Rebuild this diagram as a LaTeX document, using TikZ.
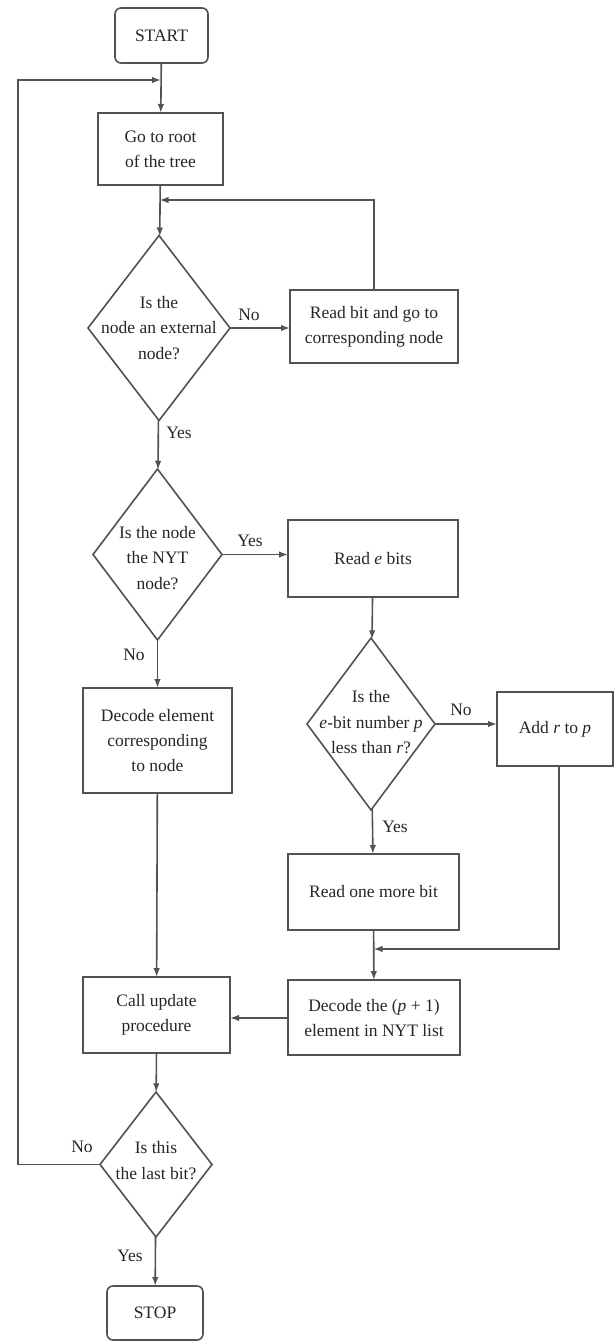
\documentclass[tikz,border=0pt]{standalone}
\usepackage{fontspec}
\setmainfont{Liberation Serif}
\usetikzlibrary{shapes.geometric,arrows.meta}

\tikzset{
  ln/.style={draw=black!68, line width=1.6pt},
  arr/.style={ln, -{Latex[length=9pt,width=6.5pt]}},
  box/.style={ln, rectangle, inner sep=0pt, outer sep=0pt, align=center,
    text=black!85, font=\fontsize{17.5}{25}\selectfont},
  term/.style={box, rounded corners=6pt},
  dia/.style={ln, diamond, inner sep=0pt, outer sep=0pt},
  diatext/.style={align=center, inner sep=0pt, text=black!85,
    font=\fontsize{17.5}{25.5}\selectfont},
  lab/.style={inner sep=0pt, text=black!85, font=\fontsize{17.5}{20}\selectfont}
}

\begin{document}
\begin{tikzpicture}[x=1pt,y=-1pt]
\useasboundingbox (0,0) rectangle (614,1342);

% terminals and process boxes
\node[term, minimum width=93pt, minimum height=55pt] (start) at (161.5,35.5) {START};
\node[box, minimum width=125pt, minimum height=72pt] (root) at (160.5,149) {Go to root\\of the tree};
\node[box, minimum width=168pt, minimum height=73pt] (readbit) at (374,326.5) {Read bit and go to\\corresponding node};
\node[box, minimum width=170pt, minimum height=77pt] (reade) at (373,558.5) {Read \textit{e} bits};
\node[box, minimum width=149pt, minimum height=105pt] (decel) at (157.5,740.5) {Decode element\\corresponding\\to node};
\node[box, minimum width=116pt, minimum height=74pt] (addr) at (555,729) {Add \textit{r} to \textit{p}};
\node[box, minimum width=171pt, minimum height=76pt] (onemore) at (373.5,892) {Read one more bit};
\node[box, minimum width=147pt, minimum height=76pt] (update) at (156.5,1015) {Call update\\procedure};
\node[box, minimum width=172pt, minimum height=75pt] (decp) at (374,1017.5) {Decode the (\textit{p} + 1)\\element in NYT list};
\node[term, minimum width=96pt, minimum height=54pt] (stop) at (155,1313) {STOP};

% decisions
\node[dia, minimum width=142pt, minimum height=185pt] (d1) at (159,328) {};
\node[diatext] (t1) at (d1) {Is the\\node an external\\node?};
\node[dia, minimum width=129pt, minimum height=171pt] (d2) at (157.5,554.5) {};
\node[diatext] (t2) at ([yshift=-3.5pt]d2.center) {Is the node\\the NYT\\node?};
\node[dia, minimum width=128pt, minimum height=172pt] (d3) at (371,724) {};
\node[diatext] (t3) at ([yshift=1.5pt]d3.center) {Is the\\\textit{e}-bit number \textit{p}\\less than \textit{r}?};
\node[dia, minimum width=112pt, minimum height=145pt] (d4) at (156,1164.5) {};
\node[diatext] (t4) at ([yshift=4pt]d4.center) {Is this\\the last bit?};

% junction points
\coordinate (jtop) at (161,80);
\coordinate (lt) at (18,80);
\coordinate (j1) at (159.5,200);
\coordinate (j2) at (373.5,949);

% connectors
\draw[arr] (start) -- (root);
\draw[arr] (root) -- (d1);
\draw[arr] (d1.east) -- (d1.east -| readbit.west);
\draw[arr] (readbit.north) |- (j1);
\draw[arr] (d1) -- (d2);
\draw[arr] (d2.east) -- (d2.east -| reade.west);
\draw[arr] (d2) -- (decel);
\draw[arr] (decel) -- (update);
\draw[arr] (reade) -- (d3);
\draw[arr] (d3.east) -- (d3.east -| addr.west);
\draw[arr] (d3) -- (onemore);
\draw[arr] (onemore) -- (decp);
\draw[arr] ([xshift=4pt]addr.south) |- (j2);
\draw[arr] (decp.west |- 0,1018) -- (update.east |- 0,1018);
\draw[arr] (update) -- (d4);
\draw[arr] (d4) -- (stop);
\draw[arr] (d4.west) -| (lt) -- (jtop);

% branch labels
\node[lab] (n1) at (249,315) {No};
\node[lab] (y1) at (179,433) {Yes};
\node[lab] (y2) at (250,541) {Yes};
\node[lab] (n2) at (134,655) {No};
\node[lab] (n3) at (461,710) {No};
\node[lab] (y3) at (395,827) {Yes};
\node[lab] (n4) at (82,1147) {No};
\node[lab] (y4) at (130,1256) {Yes};
\end{tikzpicture}
\end{document}
